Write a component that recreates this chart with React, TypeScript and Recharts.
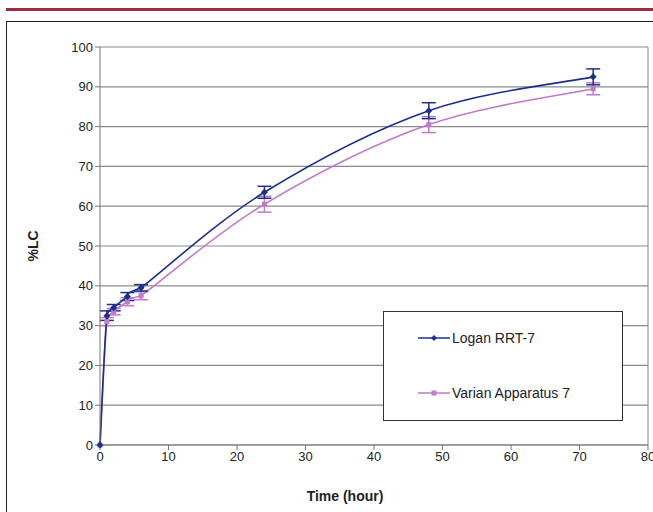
import {
  LineChart,
  Line,
  XAxis,
  YAxis,
  CartesianGrid,
  ErrorBar,
  Label,
  ReferenceLine,
} from 'recharts'

const times = [0, 1, 2, 4, 6, 24, 48, 72]
const loganValues = [0, 32.5, 34.5, 37.3, 39.5, 63.5, 84, 92.5]
const loganErrors = [0, 1.2, 0.8, 1, 0.8, 1.5, 2, 2]
const varianValues = [0, 31, 33.5, 36, 37.5, 60.5, 80.5, 89.5]
const varianErrors = [0, 1, 0.8, 1, 1, 2, 2, 1.5]
const xTicks = [0, 10, 20, 30, 40, 50, 60, 70, 80]
const yTicks = [0, 10, 20, 30, 40, 50, 60, 70, 80, 90, 100]

const LOGAN = '#1c2f8c'
const VARIAN = '#c07ac8'
const FONT = '"Liberation Sans", Arial, sans-serif'

const data = times.map((t, i) => ({
  t,
  logan: loganValues[i],
  loganErr: loganErrors[i],
  varian: varianValues[i],
  varianErr: varianErrors[i],
}))

const clamp = (v: number, a: number, b: number) => Math.min(Math.max(v, Math.min(a, b)), Math.max(a, b))

// Excel-like smoothed line (Catmull-Rom beziers, control y kept inside each segment)
function excelSmooth(context: any) {
  let pts: [number, number][] = []
  return {
    areaStart() {},
    areaEnd() {},
    lineStart() {
      pts = []
    },
    point(x: number, y: number) {
      pts.push([+x, +y])
    },
    lineEnd() {
      if (!pts.length) return
      context.moveTo(pts[0][0], pts[0][1])
      for (let i = 0; i < pts.length - 1; i++) {
        const p0 = pts[Math.max(i - 1, 0)]
        const p1 = pts[i]
        const p2 = pts[i + 1]
        const p3 = pts[Math.min(i + 2, pts.length - 1)]
        context.bezierCurveTo(
          p1[0] + (p2[0] - p0[0]) / 6,
          clamp(p1[1] + (p2[1] - p0[1]) / 6, p1[1], p2[1]),
          p2[0] - (p3[0] - p1[0]) / 6,
          clamp(p2[1] - (p3[1] - p1[1]) / 6, p1[1], p2[1]),
          p2[0],
          p2[1],
        )
      }
    },
  }
}

function Diamond(props: any) {
  const { cx, cy, index } = props
  if (cx == null || cy == null) return <g key={index} />
  const r = 3.5
  return (
    <path
      key={index}
      d={`M${cx},${cy - r}L${cx + r},${cy}L${cx},${cy + r}L${cx - r},${cy}Z`}
      fill={LOGAN}
    />
  )
}

function Square(props: any) {
  const { cx, cy, index } = props
  if (cx == null || cy == null) return <g key={index} />
  return <rect key={index} x={cx - 2.5} y={cy - 2.5} width={5} height={5} fill={VARIAN} />
}

function LegendBox() {
  const row = (label: string, color: string, marker: 'd' | 's') => (
    <div style={{ display: 'flex', alignItems: 'center', height: 20 }}>
      <svg width={32} height={10} style={{ marginRight: 2 }}>
        <line x1={0} y1={5} x2={32} y2={5} stroke={color} strokeWidth={1.5} />
        {marker === 'd' ? (
          <path d="M16,2L19,5L16,8L13,5Z" fill={color} />
        ) : (
          <rect x={13.5} y={2.5} width={5} height={5} fill={color} />
        )}
      </svg>
      <span style={{ fontSize: 14, color: '#222', fontFamily: FONT }}>{label}</span>
    </div>
  )
  return (
    <div
      style={{
        position: 'absolute',
        left: 383,
        top: 311,
        width: 240,
        height: 110,
        border: '1.5px solid #333',
        background: '#fff',
        boxSizing: 'border-box',
        paddingLeft: 34,
        paddingTop: 16,
      }}
    >
      {row('Logan RRT-7', LOGAN, 'd')}
      <div style={{ height: 35 }} />
      {row('Varian Apparatus 7', VARIAN, 's')}
    </div>
  )
}

export default function App() {
  return (
    <div
      style={{
        position: 'fixed',
        left: 0,
        top: 0,
        width: 653,
        height: 512,
        background: '#fff',
        overflow: 'hidden',
      }}
    >
      <div style={{ position: 'absolute', left: 6, right: 0, top: 8, height: 3, background: '#9e2b40' }} />
      <div
        style={{
          position: 'absolute',
          left: 6,
          top: 21,
          width: 700,
          height: 560,
          border: '1.5px solid #222',
        }}
      />
      <div style={{ position: 'absolute', left: 0, top: 0 }}>
        <LineChart
          width={653}
          height={512}
          data={data}
          margin={{ top: 47, right: 5, bottom: 37, left: 40 }}
        >
          <CartesianGrid vertical={false} stroke="#8a8a8a" strokeWidth={1.2} />
          <ReferenceLine x={80} stroke="#9a9a9a" strokeWidth={1.2} />
          <XAxis
            dataKey="t"
            type="number"
            domain={[0, 80]}
            ticks={xTicks}
            interval={0}
            stroke="#777"
            tickSize={5}
            tick={{ fontSize: 13, fill: '#222', fontFamily: FONT }}
            height={30}
          >
            <Label
              value="Time (hour)"
              position="insideBottom"
              offset={-26}
              dx={-29}
              style={{ fontSize: 14, fontWeight: 'bold', fill: '#222', fontFamily: FONT }}
            />
          </XAxis>
          <YAxis
            domain={[0, 100]}
            ticks={yTicks}
            interval={0}
            stroke="#777"
            tickSize={5}
            width={60}
            tick={{ fontSize: 13, fill: '#222', fontFamily: FONT }}
          >
            <Label
              value="%LC"
              angle={-90}
              position="insideLeft"
              offset={-7}
              style={{ fontSize: 14, fontWeight: 'bold', fill: '#222', fontFamily: FONT, textAnchor: 'middle' }}
            />
          </YAxis>
          <Line
            type={excelSmooth as any}
            dataKey="varian"
            stroke={VARIAN}
            strokeWidth={1.6}
            dot={Square}
            isAnimationActive={false}
          >
            <ErrorBar dataKey="varianErr" direction="y" width={7} stroke={VARIAN} strokeWidth={1.5} />
          </Line>
          <Line
            type={excelSmooth as any}
            dataKey="logan"
            stroke={LOGAN}
            strokeWidth={1.6}
            dot={Diamond}
            isAnimationActive={false}
          >
            <ErrorBar dataKey="loganErr" direction="y" width={7} stroke={LOGAN} strokeWidth={1.5} />
          </Line>
        </LineChart>
      </div>
      <LegendBox />
    </div>
  )
}
